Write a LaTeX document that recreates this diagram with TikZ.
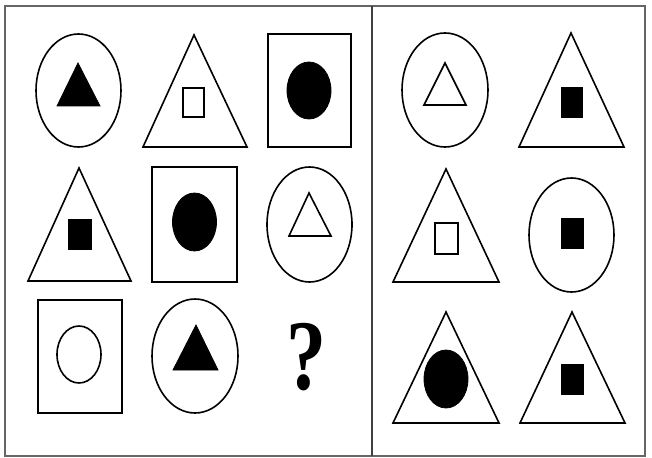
\documentclass[tikz,border=0pt]{standalone}
\usepackage{fontspec}
\setmainfont{Liberation Serif}
\begin{document}
\begin{tikzpicture}[x=1pt,y=-1pt,
  shp/.style={draw=black,line width=1.6pt,line join=miter},
  fil/.style={fill=black,draw=black,line width=0.8pt},
  frm/.style={draw=black!60,line width=2pt}]
\useasboundingbox (0,0) rectangle (652,457);
% frame
\draw[frm] (5,6) rectangle (645,456);
\draw[frm,draw=black!75] (372,6) coordinate (dtop) -- (372,456) coordinate (dbot);
% row 1 left
\draw[shp] (78.5,90.5) ellipse [x radius=42.5,y radius=56.5];
\fill[fil] (78,63) -- (100,106) -- (57,106) -- cycle;
\draw[shp] (194,35) -- (247,147) -- (143,147) -- cycle;
\draw[shp] (183,88) rectangle (204,117);
\draw[shp] (268,34) rectangle (351,147);
\fill[fil] (309,90.5) ellipse [x radius=22,y radius=28.5];
% row 2 left
\draw[shp] (79,168) -- (131,281) -- (28,281) -- cycle;
\fill[fil] (68,219) rectangle (91,249);
\draw[shp] (152,167) rectangle (237,282);
\fill[fil] (194.5,222) ellipse [x radius=22,y radius=29];
\draw[shp] (309.5,224.5) ellipse [x radius=42.5,y radius=57.5];
\draw[shp] (309,193) -- (331,236) -- (289,236) -- cycle;
% row 3 left
\draw[shp] (38,300) rectangle (122,413);
\draw[shp] (79,354.5) ellipse [x radius=22,y radius=28.5];
\draw[shp] (195,356) ellipse [x radius=43,y radius=57];
\fill[fil] (196,325) -- (218,370) -- (173,370) -- cycle;
\node[inner sep=0pt,xscale=0.8,font=\fontsize{100}{100}\selectfont\bfseries] (q) at (306,357) {?};
% right panel
\draw[shp] (445,90) ellipse [x radius=43,y radius=57];
\draw[shp] (445,63) -- (466,105) -- (424,105) -- cycle;
\draw[shp] (571,33) -- (624,147) -- (519,147) -- cycle;
\fill[fil] (561,87) rectangle (582,117);
\draw[shp] (446,169) -- (499,282) -- (393,282) -- cycle;
\draw[shp] (435,223) rectangle (458,254);
\draw[shp] (571.5,235) ellipse [x radius=42.5,y radius=57];
\fill[fil] (561,218) rectangle (583,248);
\draw[shp] (446,312) -- (499,423) -- (393,423) -- cycle;
\fill[fil] (446,379) ellipse [x radius=22,y radius=29];
\draw[shp] (572,312) -- (625,423) -- (520,423) -- cycle;
\fill[fil] (561,364) rectangle (583,394);
\end{tikzpicture}
\end{document}
